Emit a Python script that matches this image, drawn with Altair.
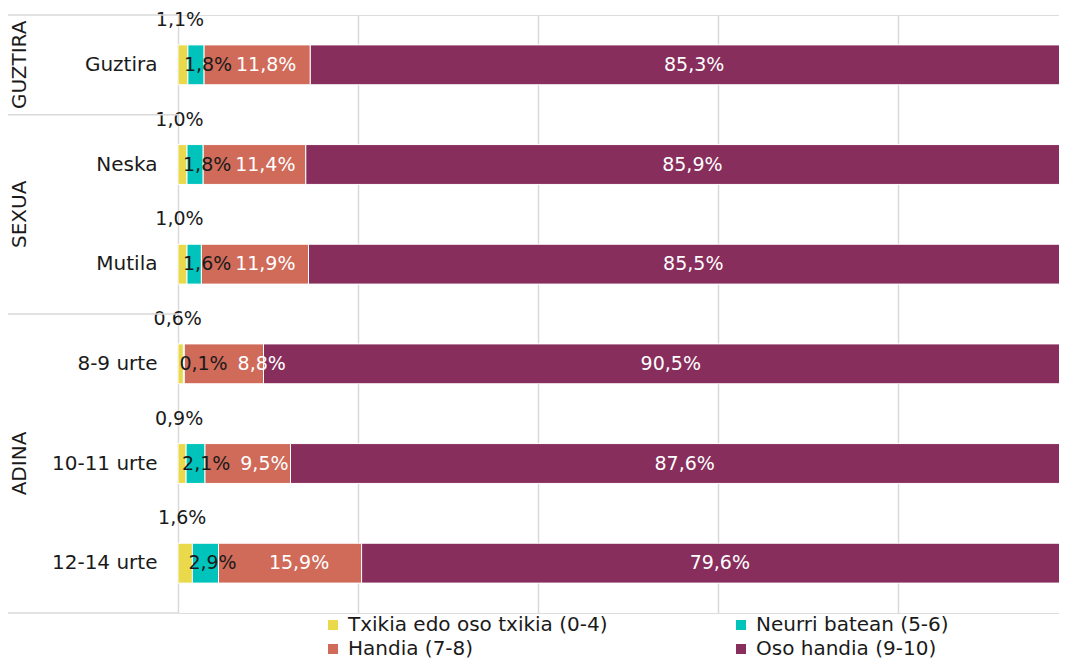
import altair as alt
import pandas as pd

categories = ["Guztira", "Neska", "Mutila", "8-9 urte", "10-11 urte", "12-14 urte"]
groups = ["GUZTIRA", "SEXUA", "SEXUA", "ADINA", "ADINA", "ADINA"]
series = ["Txikia edo oso txikia (0-4)", "Neurri batean (5-6)", "Handia (7-8)", "Oso handia (9-10)"]
txikia = [1.1, 1.0, 1.0, 0.6, 0.9, 1.6]
neurri = [1.8, 1.8, 1.6, 0.1, 2.1, 2.9]
handia = [11.8, 11.4, 11.9, 8.8, 9.5, 15.9]
oso = [85.3, 85.9, 85.5, 90.5, 87.6, 79.6]
colors = ["#E9D94B", "#00C4BC", "#D06A59", "#872E5C"]

FONT = "DejaVu Sans"
FS = 20      # axis, group and legend text
FSV = 19     # value labels

values = [txikia, neurri, handia, oso]
rows = []
for i, cat in enumerate(categories):
    start = 0.0
    for s, name in enumerate(series):
        v = values[s][i]
        rows.append({
            "cat": cat, "series": name, "sidx": s, "v": v,
            "start": start, "end": start + v, "mid": start + v / 2,
            "label": f"{v:.1f}".replace(".", ",") + "%",
        })
        start += v
df = pd.DataFrame(rows)
# keep the "Handia" label clear of the "Neurri" label that sits to its left
teal_start = df[df.sidx == 1].set_index("cat")["start"]
df["hx"] = df.apply(lambda r: max(r["mid"] + 1.0, teal_start[r["cat"]] + 8.7), axis=1)

# group boundaries / mids (in row units)
gdata = []
bounds = [0]
i = 0
while i < len(groups):
    j = i
    while j < len(groups) and groups[j] == groups[i]:
        j += 1
    gdata.append({"g": groups[i], "mid": (i + j) / 2})
    bounds.append(j)
    i = j
gdf = pd.DataFrame(gdata)
bdf = pd.DataFrame({"b": bounds})

W = 881
H = 598
xmax = 100 * W / 900.0

xscale = alt.Scale(domain=[0, xmax], nice=False)
yscale = alt.Scale(domain=categories, paddingInner=0.6, paddingOuter=0.3)
ysort = categories

base = alt.Chart(df)

bars = base.mark_bar(stroke="white", strokeWidth=1, clip=True).encode(
    x=alt.X("start:Q", scale=xscale,
            axis=alt.Axis(values=[0, 20, 40, 60, 80], labels=False, ticks=False,
                          domain=False, grid=True, gridColor="#d9d9d9",
                          gridWidth=1.5, title=None)),
    x2="end:Q",
    y=alt.Y("cat:N", scale=yscale, sort=ysort,
            axis=alt.Axis(title=None, ticks=False, domain=False, labelPadding=21,
                          labelFontSize=FS, labelFont=FONT, labelColor="#1a1a1a")),
    color=alt.Color("series:N", scale=alt.Scale(domain=series, range=colors),
                    legend=alt.Legend(title=None, orient="none", legendX=145, legendY=600,
                                      direction="horizontal", columns=2,
                                      columnPadding=123, rowPadding=4,
                                      symbolType="square", symbolSize=100,
                                      symbolStrokeWidth=0, labelFontSize=FS,
                                      labelFont=FONT, labelColor="#1a1a1a",
                                      labelOffset=5, padding=0, labelLimit=400)),
    order="sidx:Q",
)

def txt(sidx, xfield, color, **kw):
    return base.transform_filter(alt.datum.sidx == sidx).mark_text(
        font=FONT, fontSize=FSV, color=color, baseline="middle", **kw
    ).encode(x=alt.X(f"{xfield}:Q", scale=xscale),
             y=alt.Y("cat:N", scale=yscale, sort=ysort),
             text="label:N")

t_y = txt(0, "mid", "#1a1a1a", dy=-45, dx=-3, align="center")
t_n = txt(1, "start", "#1a1a1a", dx=-4, align="left")
t_h = txt(2, "hx", "white", align="center")
t_o = txt(3, "mid", "white", align="center")

main = alt.layer(bars, t_y, t_n, t_h, t_o)

qy = alt.Scale(domain=[0, len(categories)], reverse=True, nice=False, zero=False)

seps = alt.Chart(bdf).mark_rule(color="#d9d9d9", strokeWidth=1.5).encode(
    x=alt.value(-170), x2=alt.value(0),
    y=alt.Y("b:Q", scale=qy, axis=None),
)
glabels = alt.Chart(gdf).mark_text(
    angle=270, font=FONT, fontSize=FS, color="#1a1a1a", align="center", baseline="middle"
).encode(
    x=alt.value(-158),
    y=alt.Y("mid:Q", scale=qy, axis=None),
    text="g:N",
)

side = alt.layer(seps, glabels)

chart = alt.layer(main, side).resolve_scale(y="independent").properties(
    width=W, height=H,
    autosize=alt.AutoSizeParams(type="none"),
    padding={"left": 170, "top": 7, "right": 0, "bottom": 47},
).configure_view(stroke=None).configure(font=FONT)

chart.save("out.html", embed_options={"renderer": "svg", "actions": False})
